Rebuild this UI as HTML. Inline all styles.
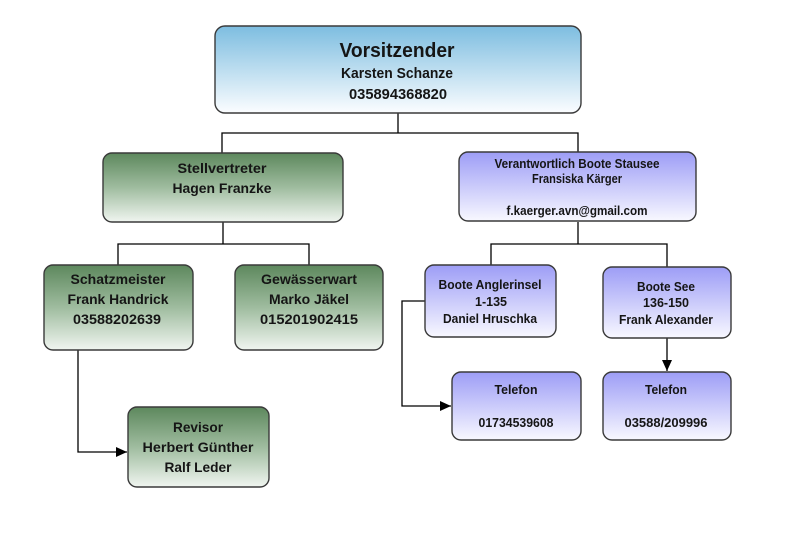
<!DOCTYPE html>
<html>
<head>
<meta charset="utf-8">
<style>
  html, body { margin: 0; padding: 0; background: #ffffff; }
  svg { display: block; }
  text { font-family: "Liberation Sans", "DejaVu Sans", sans-serif; font-weight: bold; fill: #151515; text-anchor: middle; }
</style>
</head>
<body>
<svg width="800" height="540" viewBox="0 0 800 540" xmlns="http://www.w3.org/2000/svg">
  <defs>
    <linearGradient id="gBlue" x1="0" y1="0" x2="0" y2="1">
      <stop offset="0" stop-color="#7dbde0"/>
      <stop offset="1" stop-color="#fbfdff"/>
    </linearGradient>
    <linearGradient id="gGreen" x1="0" y1="0" x2="0" y2="1">
      <stop offset="0" stop-color="#5d885d"/>
      <stop offset="0.5" stop-color="#9fbc9f"/>
      <stop offset="1" stop-color="#f0f5f0"/>
    </linearGradient>
    <linearGradient id="gPurple" x1="0" y1="0" x2="0" y2="1">
      <stop offset="0" stop-color="#9d9df6"/>
      <stop offset="1" stop-color="#f8f8ff"/>
    </linearGradient>
    <marker id="arr" markerWidth="12" markerHeight="10" refX="11" refY="5" orient="auto" markerUnits="userSpaceOnUse">
      <path d="M0,0 L11,5 L0,10 Z" fill="#000"/>
    </marker>
  </defs>

  <!-- connectors -->
  <g stroke="#000" stroke-width="1.3" fill="none">
    <path d="M398,113 V133"/>
    <path d="M222,153 V133 H578 V153"/>
    <path d="M223,222 V244"/>
    <path d="M118,265 V244 H309 V265"/>
    <path d="M578,222 V244"/>
    <path d="M491,265 V244 H667 V267"/>
    <path d="M78,350 V452 H127" marker-end="url(#arr)"/>
    <path d="M425,301 H402 V406 H451" marker-end="url(#arr)"/>
    <path d="M667,338 V371" marker-end="url(#arr)"/>
  </g>

  <!-- boxes -->
  <g stroke="#3a3a3a" stroke-width="1.4">
    <rect x="215" y="26" width="366" height="87" rx="10" fill="url(#gBlue)"/>
    <rect x="103" y="153" width="240" height="69" rx="9" fill="url(#gGreen)"/>
    <rect x="459" y="152" width="237" height="69" rx="9" fill="url(#gPurple)"/>
    <rect x="44" y="265" width="149" height="85" rx="9" fill="url(#gGreen)"/>
    <rect x="235" y="265" width="148" height="85" rx="9" fill="url(#gGreen)"/>
    <rect x="425" y="265" width="131" height="72" rx="9" fill="url(#gPurple)"/>
    <rect x="603" y="267" width="128" height="71" rx="9" fill="url(#gPurple)"/>
    <rect x="128" y="407" width="141" height="80" rx="9" fill="url(#gGreen)"/>
    <rect x="452" y="372" width="129" height="68" rx="9" fill="url(#gPurple)"/>
    <rect x="603" y="372" width="128" height="68" rx="9" fill="url(#gPurple)"/>
  </g>

  <!-- texts -->
  <text x="397" y="57" font-size="20" textLength="115" lengthAdjust="spacingAndGlyphs">Vorsitzender</text>
  <text x="397" y="78" font-size="15" textLength="112" lengthAdjust="spacingAndGlyphs">Karsten Schanze</text>
  <text x="398" y="99" font-size="15" textLength="98" lengthAdjust="spacingAndGlyphs">035894368820</text>

  <text x="222" y="173" font-size="14" textLength="89" lengthAdjust="spacingAndGlyphs">Stellvertreter</text>
  <text x="222" y="193" font-size="14" textLength="99" lengthAdjust="spacingAndGlyphs">Hagen Franzke</text>

  <text x="577" y="168" font-size="13" textLength="165" lengthAdjust="spacingAndGlyphs">Verantwortlich Boote Stausee</text>
  <text x="577" y="183" font-size="13" textLength="90" lengthAdjust="spacingAndGlyphs">Fransiska Kärger</text>
  <text x="577" y="215" font-size="13" textLength="141" lengthAdjust="spacingAndGlyphs">f.kaerger.avn@gmail.com</text>

  <text x="118" y="284" font-size="14" textLength="95" lengthAdjust="spacingAndGlyphs">Schatzmeister</text>
  <text x="118" y="304" font-size="14" textLength="101" lengthAdjust="spacingAndGlyphs">Frank Handrick</text>
  <text x="117" y="324" font-size="14" textLength="88" lengthAdjust="spacingAndGlyphs">03588202639</text>

  <text x="309" y="284" font-size="14" textLength="96" lengthAdjust="spacingAndGlyphs">Gewässerwart</text>
  <text x="309" y="304" font-size="14" textLength="80" lengthAdjust="spacingAndGlyphs">Marko Jäkel</text>
  <text x="309" y="324" font-size="14" textLength="98" lengthAdjust="spacingAndGlyphs">015201902415</text>

  <text x="490" y="289" font-size="13" textLength="103" lengthAdjust="spacingAndGlyphs">Boote Anglerinsel</text>
  <text x="491" y="306" font-size="13" textLength="32" lengthAdjust="spacingAndGlyphs">1-135</text>
  <text x="490" y="323" font-size="13" textLength="94" lengthAdjust="spacingAndGlyphs">Daniel Hruschka</text>

  <text x="666" y="291" font-size="13" textLength="58" lengthAdjust="spacingAndGlyphs">Boote See</text>
  <text x="666" y="307" font-size="13" textLength="46" lengthAdjust="spacingAndGlyphs">136-150</text>
  <text x="666" y="324" font-size="13" textLength="94" lengthAdjust="spacingAndGlyphs">Frank Alexander</text>

  <text x="198" y="432" font-size="14" textLength="50" lengthAdjust="spacingAndGlyphs">Revisor</text>
  <text x="198" y="452" font-size="14" textLength="111" lengthAdjust="spacingAndGlyphs">Herbert Günther</text>
  <text x="198" y="472" font-size="14" textLength="67" lengthAdjust="spacingAndGlyphs">Ralf Leder</text>

  <text x="516" y="394" font-size="13" textLength="43" lengthAdjust="spacingAndGlyphs">Telefon</text>
  <text x="516" y="427" font-size="13" textLength="75" lengthAdjust="spacingAndGlyphs">01734539608</text>

  <text x="666" y="394" font-size="13" textLength="42" lengthAdjust="spacingAndGlyphs">Telefon</text>
  <text x="666" y="427" font-size="13" textLength="83" lengthAdjust="spacingAndGlyphs">03588/209996</text>
</svg>
</body>
</html>
